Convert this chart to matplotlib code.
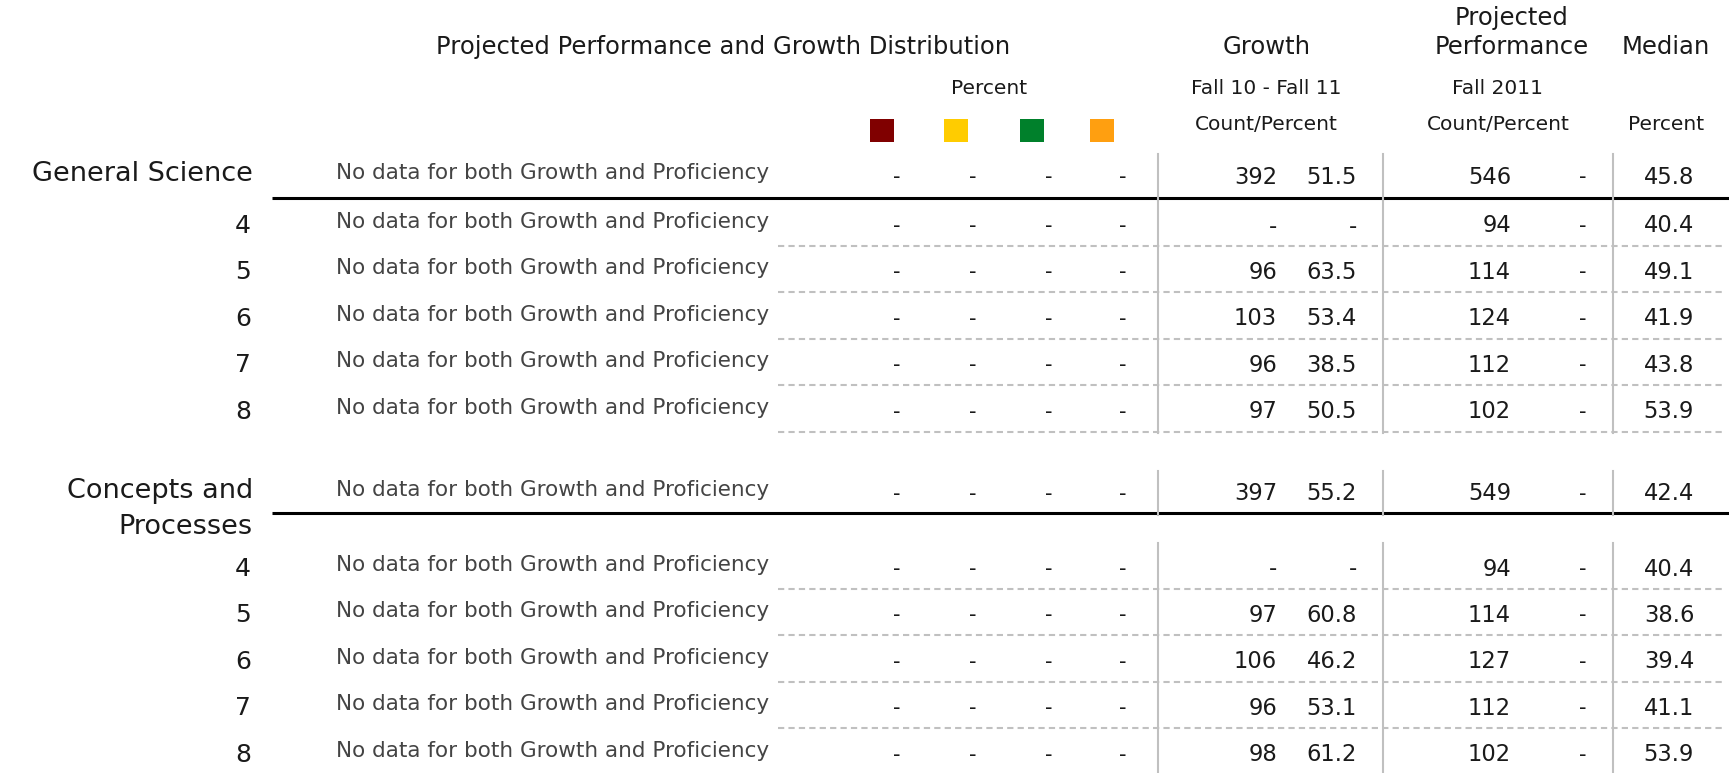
import matplotlib
matplotlib.use("Agg")
import matplotlib.pyplot as plt
from matplotlib.patches import Rectangle

plt.rcParams['font.family'] = ['DejaVu Sans']

# table data
group_names = ["General Science", "Concepts and\nProcesses"]
grades = ["4", "5", "6", "7", "8"]
no_data_msg = "No data for both Growth and Proficiency"

# first entry of each list is the group total, then grades 4-8
gs_growth_n = [392, None, 96, 103, 96, 97]
gs_growth_pct = [51.5, None, 63.5, 53.4, 38.5, 50.5]
gs_proj_n = [546, 94, 114, 124, 112, 102]
gs_median = [45.8, 40.4, 49.1, 41.9, 43.8, 53.9]

cp_growth_n = [397, None, 97, 106, 96, 98]
cp_growth_pct = [55.2, None, 60.8, 46.2, 53.1, 61.2]
cp_proj_n = [549, 94, 114, 127, 112, 102]
cp_median = [42.4, 40.4, 38.6, 39.4, 41.1, 53.9]

legend_colors = ['#800000', '#ffcc00', '#00802b', '#ff9f10']

W, H = 1729, 773
fig = plt.figure(figsize=(W / 100, H / 100), dpi=100)
ax = fig.add_axes([0, 0, 1, 1])
ax.set_xlim(0, W)
ax.set_ylim(H, 0)
ax.axis('off')

txt = '#1a1a1a'
grey = '#444444'
line_grey = '#c0c0c0'

# column positions
x_group = 253
x_msg = 336
x_dist = [897, 973, 1049, 1123]
x_sq = [882, 956, 1032, 1102]
x_gn, x_gp = 1277, 1357
x_pn, x_pd = 1511, 1583
x_med = 1669
x_vlines = [1158, 1383, 1613]

# headers
hsize, ssize = 17.5, 14.5
ax.text(723, 47, "Projected Performance and Growth Distribution", ha='center', va='center',
        fontsize=hsize, color=txt)
ax.text(1267, 47, "Growth", ha='center', va='center', fontsize=hsize, color=txt)
ax.text(1512, 18, "Projected", ha='center', va='center', fontsize=hsize, color=txt)
ax.text(1512, 47, "Performance", ha='center', va='center', fontsize=hsize, color=txt)
ax.text(1666, 47, "Median", ha='center', va='center', fontsize=hsize, color=txt)
ax.text(989, 88, "Percent", ha='center', va='center', fontsize=ssize, color=txt)
ax.text(1266, 88, "Fall 10 - Fall 11", ha='center', va='center', fontsize=ssize, color=txt)
ax.text(1498, 88, "Fall 2011", ha='center', va='center', fontsize=ssize, color=txt)
ax.text(1266, 124, "Count/Percent", ha='center', va='center', fontsize=ssize, color=txt)
ax.text(1498, 124, "Count/Percent", ha='center', va='center', fontsize=ssize, color=txt)
ax.text(1666, 124, "Percent", ha='center', va='center', fontsize=ssize, color=txt)

for x, c in zip(x_sq, legend_colors):
    ax.add_patch(Rectangle((x - 12, 119), 24, 23, facecolor=c, edgecolor='none'))


def fmt(v):
    return "-" if v is None else str(v)


def draw_row(y, growth_n, growth_pct, proj_n, median):
    ax.text(x_msg, y - 4, no_data_msg, ha='left', va='center', fontsize=15.5, color=grey)
    for x in x_dist:
        ax.text(x, y, "-", ha='center', va='center', fontsize=15, color=txt)
    ax.text(x_gn, y, fmt(growth_n), ha='right', va='center', fontsize=16.3, color=txt)
    ax.text(x_gp, y, fmt(growth_pct), ha='right', va='center', fontsize=16.3, color=txt)
    ax.text(x_pn, y, fmt(proj_n), ha='right', va='center', fontsize=16.3, color=txt)
    ax.text(x_pd, y, "-", ha='center', va='center', fontsize=15, color=txt)
    ax.text(x_med, y, fmt(median), ha='center', va='center', fontsize=16.3, color=txt)


groups = [
    (group_names[0], gs_growth_n, gs_growth_pct, gs_proj_n, gs_median, 174, 198),
    (group_names[1], cp_growth_n, cp_growth_pct, cp_proj_n, cp_median, 491, 513),
]
row_step = 46.4

for name, gn, gp, pn, med, y0, y_line in groups:
    lines = name.split("\n")
    for k, part in enumerate(lines):
        ax.text(x_group, y0 + k * 36, part, ha='right', va='center', fontsize=19.5, color=txt)
    draw_row(y0 + 3, gn[0], gp[0], pn[0], med[0])
    ax.plot([272, W], [y_line, y_line], color='black', lw=2.2, solid_capstyle='butt')
    for x in x_vlines:
        ax.plot([x, x], [y0 - 20, y_line + 2], color=line_grey, lw=1.5)

    y_first = y0 + 52 + (26 if len(lines) > 1 else 0)
    ys = [y_first + i * row_step for i in range(len(grades))]
    for i, g in enumerate(grades):
        y = ys[i]
        ax.text(x_group - 2, y, g, ha='right', va='center', fontsize=18, color=txt)
        draw_row(y, gn[i + 1], gp[i + 1], pn[i + 1], med[i + 1])
        ax.plot([778, 1722], [y + 20, y + 20], color=line_grey, lw=1.5,
                linestyle=(0, (3, 2)))
    for x in x_vlines:
        ax.plot([x, x], [ys[0] - 26, ys[-1] + 21], color=line_grey, lw=1.5)

fig.savefig("out.png", dpi=100, facecolor='white')
